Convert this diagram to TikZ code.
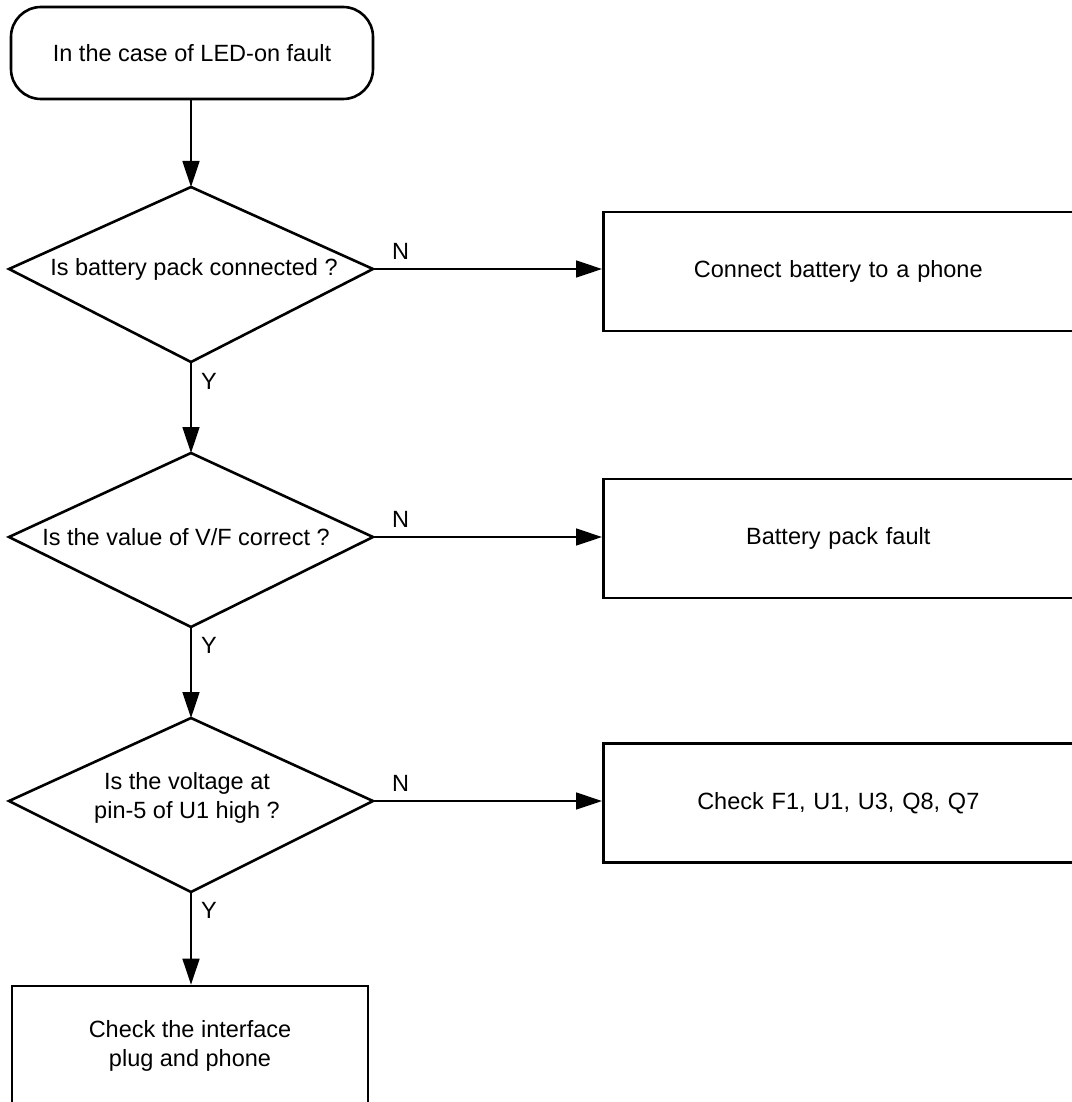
\documentclass[tikz,border=0pt]{standalone}
\usepackage{fontspec}
\setmainfont{Liberation Sans}
\usetikzlibrary{arrows.meta,calc}

% action text is centred in the visible 470pt of a box that runs on past the page edge
\newcommand{\actiontext}[1]{\makebox[470pt][c]{#1}}

\begin{document}
\begin{tikzpicture}[x=1pt, y=-1pt,
  every node/.style={font=\fontsize{23.5}{29}\selectfont},
  outline/.style={draw, line width=2.6pt, line join=miter},
  term/.style={outline, rounded corners=30pt, minimum width=362pt, minimum height=92pt, inner sep=0pt},
  procbox/.style={outline, anchor=west, text width=600pt, align=left, minimum height=119pt, inner sep=0pt},
  endbox/.style={outline, minimum width=356pt, minimum height=120pt, inner sep=0pt, align=center},
  conn/.style={line width=1.4pt, -{Triangle[length=26pt, width=17pt]}},
  lbl/.style={inner sep=0pt}
]
\useasboundingbox (0,0) rectangle (1071,1102);

% start terminal
\node[term] (start) at (192,53) {In the case of LED-on fault};

% decision 1
\coordinate (d1t) at (191,187);
\coordinate (d1l) at (9,269);
\coordinate (d1r) at (373,269);
\coordinate (d1b) at (191,362);
\draw[outline] (d1t) -- (d1r) -- (d1b) -- (d1l) -- cycle;
\node (q1) at (194,269) {Is battery pack connected ?};

% decision 2
\coordinate (d2t) at (191,453);
\coordinate (d2l) at (9,537);
\coordinate (d2r) at (373,537);
\coordinate (d2b) at (191,627);
\draw[outline] (d2t) -- (d2r) -- (d2b) -- (d2l) -- cycle;
\node (q2) at (186,537) {Is the value of V/F correct ?};

% decision 3
\coordinate (d3t) at (191,718);
\coordinate (d3l) at (9,801);
\coordinate (d3r) at (373,801);
\coordinate (d3b) at (191,892);
\draw[outline] (d3t) -- (d3r) -- (d3b) -- (d3l) -- cycle;
\node[align=center] (q3) at (187,798) {Is the voltage at\\pin-5 of U1 high ?};

% action boxes
\node[procbox] (a1) at (602,271.5) {\actiontext{Connect battery to a phone}};
\node[procbox] (a2) at (602,538.5) {\actiontext{Battery pack fault}};
\node[procbox] (a3) at (602,803) {\actiontext{Check F1, U1, U3, Q8, Q7}};
\node[endbox] (a4) at (190,1046) {Check the interface\\plug and phone};

% flow
\draw[conn] (start.south -| d1t) -- (d1t);
\draw[conn] (d1r) -- (d1r -| a1.west);
\draw[conn] (d1b) -- (d2t);
\draw[conn] (d2r) -- (d2r -| a2.west);
\draw[conn] (d2b) -- (d3t);
\draw[conn] (d3r) -- (d3r -| a3.west);
\draw[conn] (d3b) -- (d3b |- a4.north);

% branch labels
\node[lbl, anchor=base west] (n1) at ($(d1r)+(19,-10)$) {N};
\node[lbl, anchor=base west] (n2) at ($(d2r)+(19,-10)$) {N};
\node[lbl, anchor=base west] (n3) at ($(d3r)+(19,-10)$) {N};
\node[lbl, anchor=north west] (y1) at ($(d1b)+(10,11)$) {Y};
\node[lbl, anchor=north west] (y2) at ($(d2b)+(10,10)$) {Y};
\node[lbl, anchor=north west] (y3) at ($(d3b)+(10,10)$) {Y};
\end{tikzpicture}
\end{document}
